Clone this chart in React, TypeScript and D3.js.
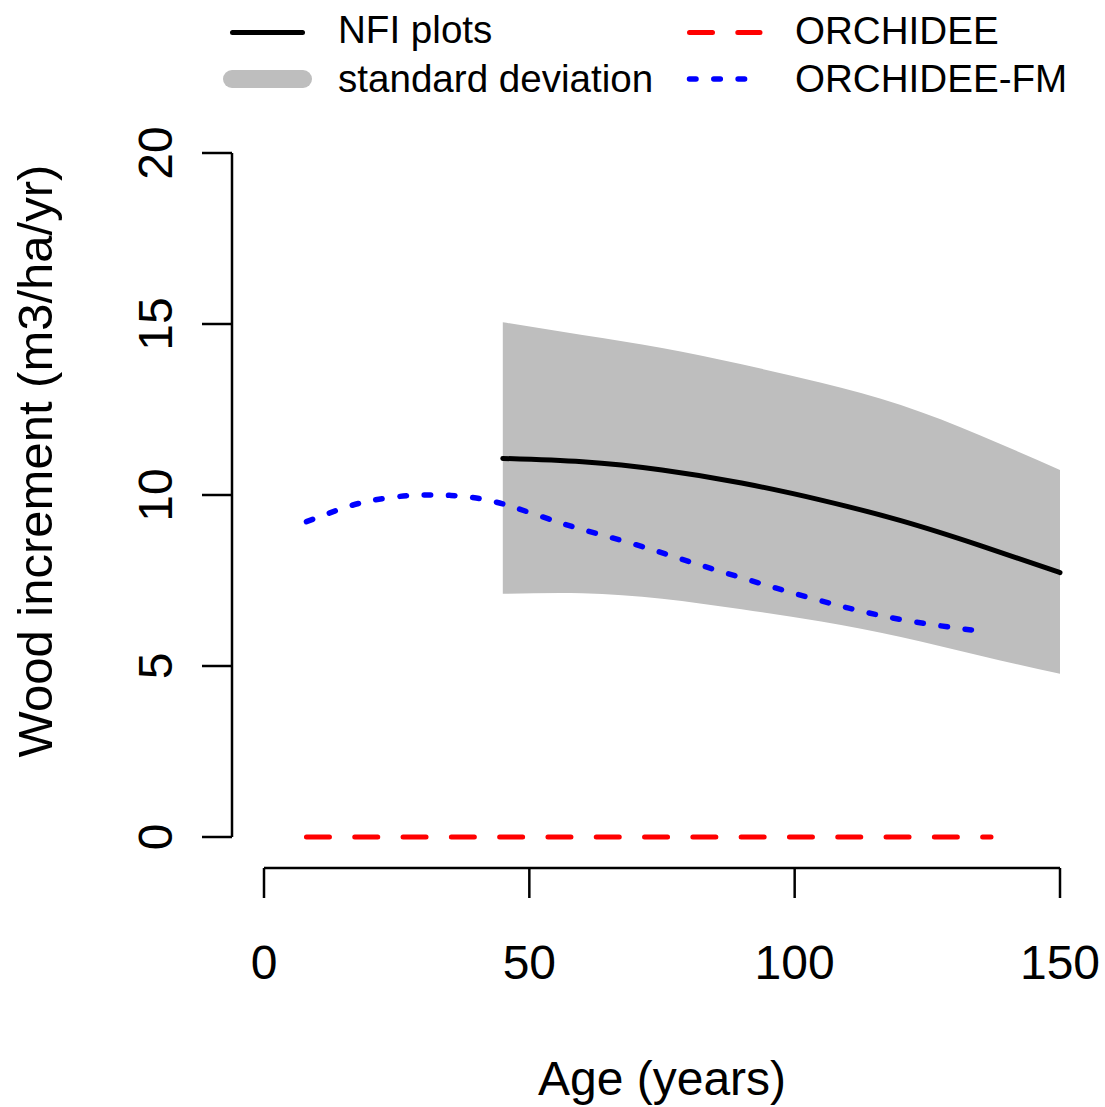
import React from "react";
import * as d3 from "d3";

// NFI plots mean and ±SD band
const nfiAges = [45, 60, 75, 90, 105, 120, 135, 150];
const nfiMean = [11.07, 10.97, 10.73, 10.35, 9.85, 9.25, 8.52, 7.73];
const sdAges = [45, 60, 75, 90, 105, 120, 135, 150];
const sdUpper = [15.05, 14.68, 14.3, 13.82, 13.28, 12.63, 11.74, 10.73];
const sdLower = [7.11, 7.13, 6.97, 6.66, 6.3, 5.85, 5.3, 4.77];

// ORCHIDEE (dashed red)
const orchAges = [8, 137];
const orchValues = [0, 0];

// ORCHIDEE-FM (dotted blue)
const fmAges = [8, 15, 20, 25, 30, 35, 40, 45, 50, 55, 60, 70, 80, 90, 100, 110, 120, 130, 135];
const fmValues = [9.22, 9.62, 9.83, 9.95, 10.0, 9.99, 9.91, 9.74, 9.49, 9.23, 8.99, 8.55, 8.06, 7.58, 7.12, 6.7, 6.36, 6.12, 6.02];

const xTicks = [0, 50, 100, 150];
const yTicks = [0, 5, 10, 15, 20];

const legendLeft = ["NFI plots", "standard deviation"];
const legendRight = ["ORCHIDEE", "ORCHIDEE-FM"];

const FONT = "'Liberation Sans', Arial, Helvetica, sans-serif";

export default function App() {
  const x = d3.scaleLinear().domain([0, 150]).range([264, 1060]);
  const y = d3.scaleLinear().domain([0, 20]).range([837, 153]);

  const band = d3
    .area<number>()
    .x((_, i) => x(sdAges[i]))
    .y0((_, i) => y(sdLower[i]))
    .y1((_, i) => y(sdUpper[i]))
    .curve(d3.curveNatural)(sdAges);

  const lineGen = (ages: number[], vals: number[]) =>
    d3
      .line<number>()
      .x((_, i) => x(ages[i]))
      .y((_, i) => y(vals[i]))
      .curve(d3.curveNatural)(ages) || "";

  const axisX = 232;
  const axisY = 868;

  return (
    <svg
      width={1105}
      height={1107}
      style={{ position: "absolute", left: 0, top: 0, background: "#fff" }}
      fontFamily={FONT}
    >
      <rect x={0} y={0} width={1105} height={1107} fill="#fff" />
      {/* SD band */}
      <path d={band || ""} fill="#BEBEBE" stroke="none" />
      {/* NFI mean */}
      <path d={lineGen(nfiAges, nfiMean)} fill="none" stroke="#000" strokeWidth={5} strokeLinecap="round" />
      {/* ORCHIDEE */}
      <path
        d={lineGen(orchAges, orchValues)}
        fill="none"
        stroke="#FF0000"
        strokeWidth={5}
        strokeLinecap="round"
        strokeDasharray="23 25.3"
      />
      {/* ORCHIDEE-FM */}
      <path
        d={lineGen(fmAges, fmValues)}
        fill="none"
        stroke="#0000FF"
        strokeWidth={5.5}
        strokeLinecap="round"
        strokeDasharray="6.5 17.8"
      />

      {/* Y axis */}
      <line x1={axisX} x2={axisX} y1={y(yTicks[0])} y2={y(yTicks[yTicks.length - 1])} stroke="#000" strokeWidth={2.5} />
      {yTicks.map((t) => (
        <g key={"y" + t}>
          <line x1={axisX - 30} x2={axisX} y1={y(t)} y2={y(t)} stroke="#000" strokeWidth={2.5} />
          <text
            transform={`translate(172, ${y(t)}) rotate(-90)`}
            textAnchor="middle"
            fontSize={48}
            fill="#000"
          >
            {t}
          </text>
        </g>
      ))}

      {/* X axis */}
      <line x1={x(xTicks[0])} x2={x(xTicks[xTicks.length - 1])} y1={axisY} y2={axisY} stroke="#000" strokeWidth={2.5} />
      {xTicks.map((t) => (
        <g key={"x" + t}>
          <line x1={x(t)} x2={x(t)} y1={axisY} y2={axisY + 30} stroke="#000" strokeWidth={2.5} />
          <text x={x(t)} y={979} textAnchor="middle" fontSize={48} fill="#000">
            {t}
          </text>
        </g>
      ))}

      {/* Axis titles */}
      <text x={662} y={1095} textAnchor="middle" fontSize={48} fill="#000">
        Age (years)
      </text>
      <text transform="translate(52, 461) rotate(-90)" textAnchor="middle" fontSize={49} fill="#000">
        Wood increment (m3/ha/yr)
      </text>

      {/* Legend */}
      <line x1={232.5} x2={302.5} y1={32.5} y2={32.5} stroke="#000" strokeWidth={5} strokeLinecap="round" />
      <line x1={232} x2={303} y1={79} y2={79} stroke="#BEBEBE" strokeWidth={18} strokeLinecap="round" />
      <text x={338} y={43} fontSize={38.6} fill="#000">{legendLeft[0]}</text>
      <text x={338} y={91.5} fontSize={38.6} fill="#000">{legendLeft[1]}</text>

      <line
        x1={689.5}
        x2={760}
        y1={32.5}
        y2={32.5}
        stroke="#FF0000"
        strokeWidth={5}
        strokeLinecap="round"
        strokeDasharray="23 25.3"
      />
      <line
        x1={689.5}
        x2={746}
        y1={79}
        y2={79}
        stroke="#0000FF"
        strokeWidth={5.5}
        strokeLinecap="round"
        strokeDasharray="6.5 17.8"
      />
      <text x={795} y={44} fontSize={38.6} fill="#000">{legendRight[0]}</text>
      <text x={795} y={91.5} fontSize={38.6} fill="#000">{legendRight[1]}</text>
    </svg>
  );
}
